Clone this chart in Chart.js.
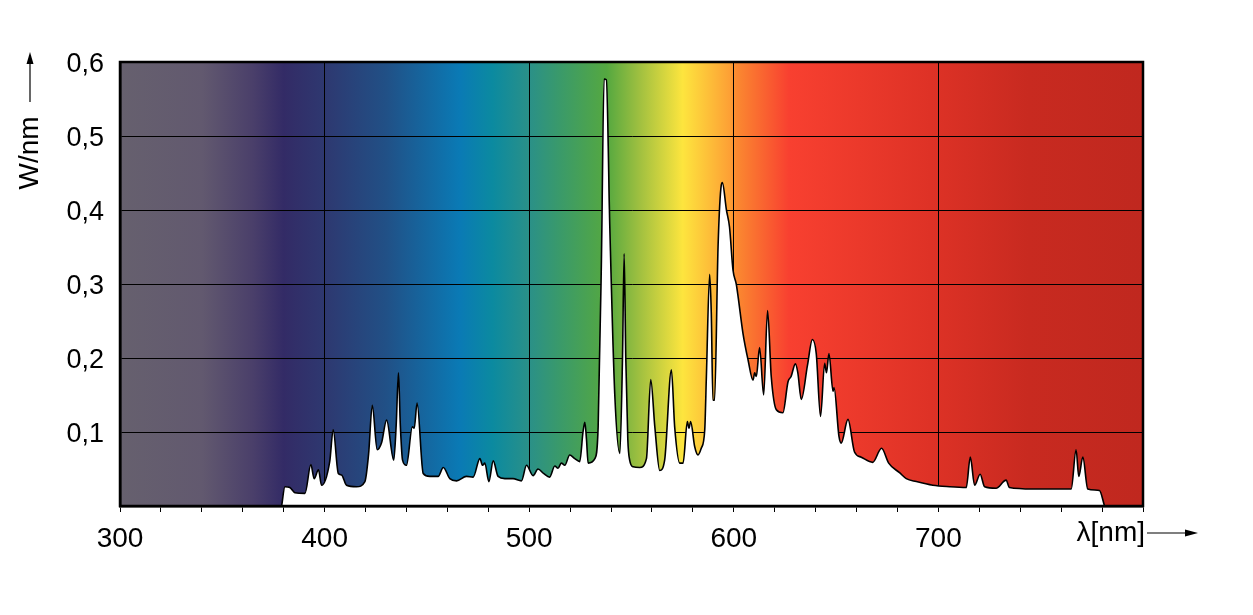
<!DOCTYPE html>
<html>
<head>
<meta charset="utf-8">
<script src="https://cdn.jsdelivr.net/npm/chart.js@4.4.1/dist/chart.umd.min.js"></script>
<style>
  body { margin: 0; background: #fff; }
</style>
</head>
<body>
<canvas id="spectrum" width="1253" height="615"></canvas>
<script>
// -- THE DATA --

const wavelength_nm = [
  379,380.6,383,385.5,390.4,393.3,394.9,397,398.5,402.5,404.2,406.7,408.3,410.7,
  415.6,419.7,421.5,423.3,425.7,427.8,430.3,433.8,435,436.1,437,438.1,440,442.9,
  443.8,445.2,448.2,451.4,455.5,458,461.2,464.5,469.3,472.6,475.9,477.2,478.3,
  480.3,482.4,484.8,488.1,492.1,496.2,498.7,501.9,504.3,507,510,512.5,514.1,
  515.7,517.4,519.8,522.3,524.7,526.3,527.2,528,528.8,532.1,533.7,535.3,536.6,
  537.7,539.4,541.8,544.3,545.6,546.4,547.2,548.2,549.1,550.8,554,557.3,559.4,
  561.4,563.8,566.2,569.5,571.1,573.6,575.2,577.3,578.1,578.9,580.9,582.5,584.1,
  585.8,586.6,588.2,589,589.8,590.6,592.3,593.9,594.4,596.4,597.9,599.6,601.2,
  602.1,604.5,607,609.4,610.2,611,612.6,614.6,616.5,618.3,620.8,624,626.5,628,
  630.1,631.3,633,636,638.4,640.3,642.4,644.4,645.3,646.5,648.5,649,651.4,652.5,
  655.8,659,662.3,667.9,672.2,675.7,681,684.3,689.2,697.3,705.5,713.6,715.6,
  717.7,720.4,722.6,728.2,733.1,734.7,746.1,757.5,764.9,767.3,768.6,770.6,773,
  778.7,781.2
];

const power_w_per_nm = [
  0,0.026,0.025,0.018,0.017,0.056,0.037,0.049,0.028,0.06,0.103,0.044,0.042,0.028,
  0.026,0.033,0.07,0.136,0.076,0.085,0.116,0.062,0.11,0.180,0.11,0.062,0.055,0.107,
  0.105,0.139,0.044,0.040,0.040,0.052,0.037,0.034,0.040,0.039,0.064,0.055,0.058,
  0.033,0.061,0.040,0.037,0.037,0.034,0.055,0.041,0.050,0.044,0.039,0.054,0.051,
  0.058,0.055,0.069,0.064,0.060,0.100,0.113,0.09,0.058,0.064,0.107,0.332,0.577,
  0.576,0.377,0.152,0.071,0.2,0.341,0.2,0.09,0.062,0.053,0.052,0.064,0.171,
  0.107,0.048,0.062,0.184,0.107,0.058,0.058,0.114,0.105,0.114,0.080,0.069,0.078,
  0.103,0.175,0.313,0.260,0.143,0.143,0.350,0.434,0.437,0.400,0.377,0.319,0.300,
  0.283,0.233,0.197,0.170,0.18,0.175,0.214,0.150,0.264,0.175,0.130,0.126,0.168,0.175,
  0.192,0.18,0.144,0.19,0.225,0.206,0.121,0.193,0.180,0.206,0.155,0.16,0.094,0.085,
  0.117,0.073,0.066,0.059,0.078,0.058,0.045,0.037,0.033,0.028,0.026,0.025,0.066,
  0.028,0.043,0.026,0.024,0.035,0.025,0.023,0.023,0.023,0.076,0.040,0.066,0.023,
  0.021,0
];

const x_tick_labels = ["300","400","500","600","700"];

// background spectrum colour stops (nm -> colour)
const spectrum_nm = [300,340,365,380,400,430,466,482,500,515,538,554,575,598,601,627,696,744,800];
const spectrum_colors = [
  "#66606e","#62596f","#4a3f6a","#332b66","#2e3870","#215086","#0a7ab5","#0b8aa0",
  "#2a9088","#3a9a6a","#55a840","#a0c040","#fde53e","#fda035","#fb8a30","#f84030",
  "#de3226","#c82a20","#c0281f"
];

// -- PLUGINS --

const FONT = "'Liberation Sans', Arial, sans-serif";

const spectrumBackground = {
  id: 'spectrumBackground',
  beforeDraw(chart) {
    const {ctx, chartArea: a, scales: {x}} = chart;
    const g = ctx.createLinearGradient(a.left, 0, a.right, 0);
    spectrum_nm.forEach((nm, i) => {
      const p = (x.getPixelForValue(nm) - a.left) / (a.right - a.left);
      g.addColorStop(Math.min(1, Math.max(0, p)), spectrum_colors[i]);
    });
    ctx.save();
    ctx.fillStyle = g;
    ctx.fillRect(a.left, a.top, a.right - a.left, a.bottom - a.top);
    ctx.restore();
  }
};

const frameAndLabels = {
  id: 'frameAndLabels',
  afterDraw(chart) {
    const {ctx, chartArea: a} = chart;
    ctx.save();
    // frame
    ctx.strokeStyle = '#000';
    ctx.lineWidth = 2.5;
    ctx.strokeRect(a.left, a.top, a.right - a.left, a.bottom - a.top);

    ctx.fillStyle = '#000';
    ctx.lineWidth = 1.2;

    // y title + arrow
    ctx.save();
    ctx.translate(30, 153);
    ctx.rotate(-Math.PI / 2);
    ctx.font = '28px ' + FONT;
    ctx.textAlign = 'center';
    ctx.textBaseline = 'middle';
    ctx.fillText('W/nm', 0, 0);
    ctx.restore();
    ctx.beginPath();
    ctx.moveTo(30, 102);
    ctx.lineTo(30, 62);
    ctx.stroke();
    ctx.beginPath();
    ctx.moveTo(30, 52);
    ctx.lineTo(26.5, 64);
    ctx.lineTo(33.5, 64);
    ctx.closePath();
    ctx.fill();

    // x title + arrow
    ctx.font = '28px ' + FONT;
    ctx.textAlign = 'right';
    ctx.textBaseline = 'middle';
    ctx.fillText('λ[nm]', a.right + 2, 533);
    ctx.beginPath();
    ctx.moveTo(a.right + 4, 533);
    ctx.lineTo(1186, 533);
    ctx.stroke();
    ctx.beginPath();
    ctx.moveTo(1198, 533);
    ctx.lineTo(1185, 529.5);
    ctx.lineTo(1185, 536.5);
    ctx.closePath();
    ctx.fill();
    ctx.restore();
  }
};

// -- THE DATA OBJ --

const spectrum_data_obj = {
  datasets: [{
    data: wavelength_nm.map((nm, i) => ({x: nm, y: power_w_per_nm[i]})),
    borderColor: '#000',
    borderWidth: 1.6,
    backgroundColor: '#fff',
    fill: 'origin',
    pointRadius: 0,
    cubicInterpolationMode: 'monotone'
  }]
};

// -- THE CHART --

const spectrum_chart_obj = {
  type: 'line',
  data: spectrum_data_obj,
  plugins: [spectrumBackground, frameAndLabels],
  options: {
    responsive: false,
    animation: false,
    layout: { padding: { top: 62, right: 110, left: 0, bottom: 0 } },
    plugins: { legend: { display: false }, tooltip: { enabled: false } },
    scales: {
      x: {
        type: 'linear',
        min: 300,
        max: 800,
        afterFit: s => { s.height = 109; },
        afterBuildTicks: s => {
          s.ticks = [];
          for (let v = 300; v <= 800; v += 20) s.ticks.push({value: v});
        },
        ticks: {
          autoSkip: false,
          maxRotation: 0,
          padding: 10,
          color: '#000',
          font: { family: FONT, size: 28 },
          callback: v => x_tick_labels.includes(String(v)) ? String(v) : ''
        },
        grid: {
          color: c => (c.tick && c.tick.value % 100 === 0) ? '#000' : 'rgba(0,0,0,0)',
          tickColor: '#000',
          tickLength: 6,
          lineWidth: 1
        },
        border: { color: '#000', width: 2.5 }
      },
      y: {
        min: 0,
        max: 0.6,
        afterFit: s => { s.width = 120; },
        ticks: {
          stepSize: 0.1,
          padding: 16,
          labelOffset: 3,
          color: '#000',
          font: { family: FONT, size: 27 },
          callback: v => v < 0.05 ? '' : v.toFixed(1).replace('.', ',')
        },
        grid: { color: '#000', lineWidth: 1, drawTicks: false },
        border: { color: '#000', width: 2.5 }
      }
    }
  }
};

new Chart('spectrum', spectrum_chart_obj);
</script>
</body>
</html>
